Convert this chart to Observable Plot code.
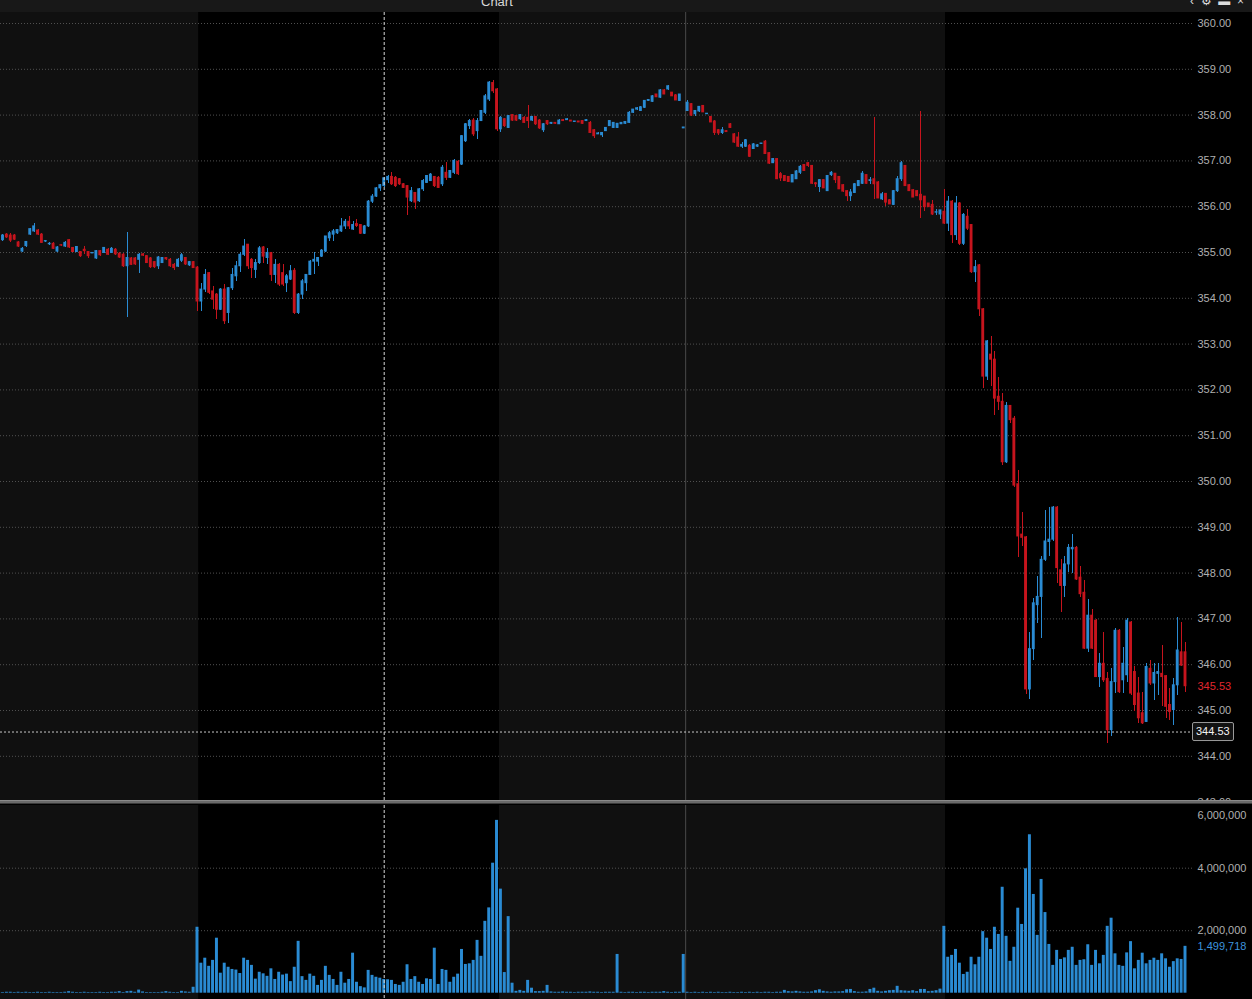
<!DOCTYPE html>
<html><head><meta charset="utf-8">
<script src="https://cdn.jsdelivr.net/npm/d3@7"></script>
<script src="https://cdn.jsdelivr.net/npm/@observablehq/plot@0.6"></script>
<style>
html,body{margin:0;padding:0;background:#000;width:1252px;height:999px;overflow:hidden;font-family:"Liberation Sans",Arial,sans-serif;}
#header{position:relative;height:12px;background:#181818;overflow:hidden;}
#title{position:absolute;left:481px;top:-5px;font-size:13px;line-height:13px;color:#d8d8d8;}
#icons{position:absolute;left:1190px;top:-5px;font-size:12px;line-height:13px;color:#dcdcdc;white-space:pre;}
#sep{height:5px;background:linear-gradient(to bottom,#8a8a8a 0,#8a8a8a 1px,#6a6a6a 1px,#6a6a6a 3px,#3a3a3a 3px,#3a3a3a 4px,#000 4px);}
svg{display:block;}
</style></head><body>
<div id="header"><span id="title">Chart</span><span id="icons">‹  ⚙  ▬  ×</span></div>
<div id="price"></div>
<div id="sep"></div>
<div id="volume"></div>
<script>
// ---- 5-minute bars (index 0 = first visible bar) ----
const open = [
355.28,355.27,355.39,355.37,355.37,355.22,355.02,355.14,355.39,355.46,
355.48,355.39,355.24,355.18,355.19,355.02,355.16,355.13,355.27,355.10,
355.01,355.01,355.06,355.01,354.98,354.87,355.03,354.99,355.06,354.99,
355.06,354.97,354.95,354.70,354.87,354.87,354.84,354.96,354.92,354.87,
354.79,354.70,354.77,354.88,354.84,354.73,354.69,354.82,354.88,354.72,
354.79,354.67,353.93,354.19,354.55,354.15,354.08,353.75,354.19,353.68,
354.22,354.48,354.70,354.95,355.17,354.84,354.62,354.77,355.11,354.88,
354.99,354.51,354.73,354.55,354.33,354.41,354.60,353.68,354.08,354.33,
354.51,354.80,354.80,354.91,355.02,355.31,355.39,355.42,355.46,355.57,
355.67,355.50,355.62,355.60,355.41,355.57,356.11,356.22,356.40,356.45,
356.58,356.65,356.63,356.60,356.49,356.45,356.12,356.30,356.12,356.38,
356.52,356.56,356.65,356.63,356.49,356.74,356.63,356.74,356.98,356.92,
357.43,357.76,357.88,357.65,357.87,358.05,358.34,358.70,358.56,357.69,
357.91,357.72,358.00,357.98,357.91,357.94,357.94,357.88,357.96,357.88,
357.67,357.87,357.81,357.83,357.80,357.89,357.89,357.88,357.85,357.86,
357.87,357.87,357.83,357.67,357.58,357.56,357.65,357.76,357.72,357.72,
357.80,357.81,357.83,358.05,358.12,358.09,358.16,358.31,358.29,358.45,
358.38,358.54,358.56,358.49,358.43,358.31,357.71,358.09,358.24,358.02,
358.08,358.20,358.02,357.96,357.86,357.67,357.61,357.65,357.80,357.58,
357.51,357.31,357.31,357.33,357.26,357.31,357.37,357.42,357.17,356.95,
357.04,356.71,356.67,356.65,356.53,356.60,356.74,356.91,356.95,356.89,
356.51,356.43,356.58,356.34,356.69,356.72,356.65,356.47,356.34,356.23,
356.30,356.45,356.50,356.69,356.56,356.60,356.53,356.16,356.28,356.14,
356.04,356.34,356.60,356.89,356.47,356.36,356.34,356.26,356.22,356.07,
356.04,355.87,355.83,355.89,355.63,356.11,355.38,356.07,355.19,355.78,
355.60,354.57,354.72,353.76,352.29,352.77,352.66,351.85,351.74,350.42,
351.65,351.37,349.94,348.84,348.78,345.46,346.34,347.30,347.48,348.29,
348.68,348.73,349.43,348.06,347.72,348.19,348.52,348.55,347.90,347.57,
346.35,347.07,346.96,345.73,346.02,345.69,344.57,345.62,346.74,345.66,
345.77,346.92,345.84,345.37,344.94,344.75,345.91,345.59,345.80,345.80,
345.75,345.12,345.01,345.55,346.27,346.27];
const high = [
355.31,355.39,355.42,355.41,355.39,355.24,355.10,355.25,355.53,355.63,
355.50,355.41,355.27,355.22,355.21,355.13,355.17,355.23,355.29,355.12,
355.14,355.03,355.13,355.03,355.01,355.05,355.05,355.12,355.08,355.10,
355.08,354.99,354.97,355.43,354.89,354.89,354.97,354.98,354.94,354.89,
354.81,354.91,354.90,354.90,354.86,354.77,354.86,354.97,354.90,354.81,
354.81,354.69,354.33,354.62,354.57,354.26,354.10,354.21,354.30,354.24,
354.65,354.81,354.99,355.28,355.18,354.86,354.84,355.13,355.13,355.08,
355.01,354.84,354.75,354.73,354.53,354.71,354.64,354.10,354.41,354.53,
354.82,354.99,354.90,355.06,355.36,355.45,355.50,355.51,355.75,355.71,
355.78,355.67,355.71,355.62,355.59,356.13,356.26,356.42,356.49,356.64,
356.69,356.74,356.65,356.62,356.51,356.47,356.41,356.32,356.40,356.59,
356.69,356.72,356.67,356.65,356.89,356.96,356.80,357.04,357.00,357.56,
357.81,357.91,357.93,357.93,358.11,358.45,358.74,358.76,358.58,357.98,
357.93,358.00,358.02,358.00,358.02,357.96,358.20,357.98,357.98,357.90,
357.82,357.89,357.84,357.84,357.90,357.90,357.92,357.89,357.87,357.87,
357.88,357.90,357.85,357.69,357.61,357.62,357.73,357.88,357.84,357.82,
357.84,357.86,358.08,358.13,358.16,358.18,358.32,358.34,358.42,358.46,
358.55,358.55,358.65,358.50,358.44,358.46,357.73,358.31,358.26,358.10,
358.19,358.21,358.04,357.98,357.88,357.69,357.72,357.66,357.81,357.60,
357.61,357.40,357.47,357.35,357.37,357.35,357.39,357.44,357.18,357.05,
357.05,356.74,356.68,356.66,356.70,356.78,356.89,356.92,356.96,356.90,
356.52,356.60,356.59,356.68,356.76,356.73,356.66,356.48,356.35,356.38,
356.50,356.57,356.76,356.70,356.63,357.95,356.54,356.31,356.29,356.15,
356.35,356.65,356.98,356.90,356.48,356.37,356.35,358.08,356.23,356.08,
356.13,355.94,355.92,356.37,356.22,356.13,356.22,356.09,355.86,355.93,
355.62,354.83,354.74,353.78,353.08,353.17,352.84,352.26,351.93,351.72,
351.67,351.41,350.24,349.33,348.80,346.71,347.45,347.92,348.37,349.36,
349.43,349.45,349.45,348.30,348.37,348.62,348.84,348.57,348.15,347.83,
347.43,347.21,346.98,346.24,346.71,345.84,345.91,346.78,346.76,346.38,
347.00,346.94,345.95,345.73,345.40,346.02,346.09,346.02,346.02,346.42,
345.77,345.48,345.69,347.03,346.92,346.49];
const low = [
355.15,355.25,355.31,355.22,355.26,355.11,355.00,355.12,355.37,355.44,
355.37,355.19,355.22,355.16,355.06,355.00,355.14,355.11,355.09,354.99,
354.99,354.90,354.96,354.87,354.97,354.85,354.92,354.97,354.93,354.97,
354.94,354.87,354.68,353.59,354.71,354.72,354.55,354.91,354.75,354.66,
354.66,354.63,354.75,354.83,354.68,354.60,354.67,354.78,354.72,354.70,
354.64,353.72,353.72,354.12,354.08,353.75,353.54,353.73,353.43,353.46,
354.18,354.37,354.56,354.91,354.62,354.44,354.44,354.73,354.77,354.73,
354.37,354.33,354.26,354.26,354.12,354.39,353.64,353.64,353.98,354.15,
354.49,354.51,354.70,354.88,354.99,355.24,355.24,355.40,355.43,355.50,
355.50,355.48,355.55,355.40,355.39,355.55,356.08,356.20,356.33,356.43,
356.51,356.47,356.43,356.47,356.39,355.80,356.09,355.94,356.10,356.34,
356.50,356.54,356.43,356.39,356.45,356.58,356.61,356.71,356.69,356.90,
357.40,357.69,357.54,357.47,357.85,358.01,358.30,358.48,357.65,357.63,
357.74,357.70,357.86,357.86,357.89,357.81,357.71,357.86,357.78,357.69,
357.63,357.78,357.80,357.80,357.79,357.86,357.88,357.85,357.84,357.83,
357.80,357.86,357.59,357.50,357.57,357.52,357.64,357.75,357.71,357.70,
357.79,357.80,357.81,358.04,358.11,358.08,358.15,358.30,358.28,358.38,
358.37,358.44,358.54,358.40,358.31,358.30,357.70,358.07,357.97,357.96,
358.06,358.05,358.01,357.83,357.56,357.55,357.58,357.62,357.71,357.39,
357.29,357.28,357.29,357.08,357.25,357.30,357.36,357.14,356.93,356.94,
356.59,356.56,356.55,356.53,356.52,356.59,356.70,356.77,356.86,356.49,
356.43,356.31,356.39,356.33,356.67,356.51,356.37,356.32,356.12,356.12,
356.29,356.44,356.49,356.49,356.49,356.15,356.17,356.14,356.01,356.04,
356.03,356.31,356.56,356.44,356.33,356.19,356.22,355.74,355.90,355.98,
355.80,355.80,355.72,355.61,355.45,355.19,355.27,355.15,355.15,355.49,
354.55,354.35,353.61,352.03,352.21,352.07,351.45,351.56,350.35,350.40,
351.27,349.87,348.33,348.57,345.35,345.24,346.09,346.90,346.57,348.25,
348.36,348.70,347.78,347.14,347.47,348.01,348.00,347.84,347.47,346.33,
346.27,346.33,345.71,345.51,345.62,344.28,344.43,345.37,345.37,345.37,
345.62,345.33,344.97,344.72,344.70,344.73,345.55,345.22,345.33,345.08,
344.83,344.79,344.68,345.33,345.96,345.40];
const close = [
355.17,355.37,355.33,355.26,355.28,355.13,355.08,355.23,355.51,355.57,
355.39,355.21,355.25,355.19,355.08,355.11,355.15,355.21,355.11,355.01,
355.12,354.92,355.03,354.92,354.99,355.03,354.94,355.10,354.95,355.08,
354.96,354.89,354.70,354.88,354.73,354.74,354.95,354.93,354.77,354.68,
354.68,354.89,354.88,354.85,354.70,354.66,354.84,354.94,354.74,354.79,
354.66,353.93,354.19,354.51,354.12,353.97,353.75,354.19,353.50,354.22,
354.51,354.70,354.95,355.13,354.70,354.66,354.77,355.09,354.91,354.99,
354.51,354.73,354.30,354.30,354.48,354.59,353.68,354.08,354.37,354.51,
354.80,354.84,354.88,355.04,355.35,355.42,355.46,355.49,355.57,355.67,
355.57,355.60,355.58,355.41,355.57,356.11,356.22,356.40,356.47,356.62,
356.65,356.49,356.45,356.49,356.41,356.20,356.34,356.09,356.38,356.56,
356.67,356.70,356.45,356.41,356.85,356.63,356.78,357.00,356.71,357.54,
357.80,357.87,357.58,357.87,358.09,358.41,358.71,358.52,357.69,357.94,
357.76,357.98,357.88,357.88,358.00,357.83,357.87,357.96,357.80,357.71,
357.80,357.80,357.83,357.81,357.88,357.87,357.91,357.86,357.86,357.84,
357.81,357.89,357.61,357.54,357.60,357.61,357.72,357.87,357.83,357.81,
357.83,357.85,358.05,358.12,358.15,358.17,358.31,358.33,358.41,358.39,
358.54,358.45,358.63,358.41,358.32,358.45,357.73,358.27,357.99,358.09,
358.18,358.06,358.03,357.84,357.61,357.60,357.67,357.63,357.72,357.40,
357.31,357.35,357.45,357.09,357.36,357.34,357.38,357.15,356.94,357.04,
356.60,356.62,356.56,356.54,356.69,356.77,356.87,356.78,356.89,356.50,
356.49,356.58,356.40,356.67,356.74,356.58,356.38,356.33,356.23,356.31,
356.49,356.56,356.72,356.50,356.58,356.49,356.18,356.27,356.09,356.05,
356.34,356.60,356.95,356.45,356.34,356.20,356.23,356.14,355.99,355.99,
355.83,355.88,355.92,355.63,356.11,355.38,356.07,355.19,355.82,355.52,
354.57,354.68,353.76,352.29,353.06,352.66,351.81,351.74,350.42,351.65,
351.34,349.91,348.80,348.77,345.46,346.34,347.34,347.48,348.29,348.69,
348.73,349.43,348.11,347.72,348.19,348.55,348.55,347.86,347.54,346.35,
347.07,346.35,345.73,346.02,345.66,344.57,345.62,346.74,345.40,346.02,
346.96,345.37,345.12,344.83,344.72,345.95,345.59,345.82,345.84,345.73,
345.08,344.97,345.55,346.31,345.98,345.53];
// volume per bar, in millions of shares
const volume = [
0.03,0.02,0.03,0.03,0.02,0.03,0.02,0.03,0.02,0.02,
0.03,0.02,0.02,0.03,0.02,0.02,0.02,0.03,0.05,0.03,
0.02,0.02,0.03,0.02,0.02,0.02,0.03,0.02,0.02,0.03,
0.03,0.05,0.02,0.05,0.06,0.03,0.10,0.04,0.02,0.02,
0.02,0.02,0.03,0.05,0.03,0.02,0.02,0.06,0.04,0.03,
0.19,2.11,0.96,1.12,0.86,1.05,1.76,0.64,0.96,0.83,
0.76,0.74,0.63,1.12,1.05,0.89,0.45,0.67,0.62,0.54,
0.78,0.44,0.67,0.58,0.61,0.37,0.83,1.66,0.53,0.41,
0.61,0.54,0.25,0.41,0.86,0.57,0.44,0.25,0.67,0.32,
0.44,1.28,0.35,0.21,0.17,0.73,0.57,0.51,0.48,0.44,
0.43,0.41,0.28,0.25,0.35,0.91,0.44,0.53,0.35,0.28,
0.46,0.44,1.44,0.28,0.76,0.73,0.35,0.51,0.61,1.40,
0.92,0.94,1.05,1.69,1.18,2.30,2.73,4.16,5.53,3.33,
0.66,2.45,0.32,0.06,0.09,0.06,0.41,0.16,0.05,0.05,
0.06,0.25,0.04,0.03,0.03,0.04,0.03,0.03,0.02,0.03,
0.03,0.03,0.04,0.03,0.03,0.02,0.03,0.03,0.03,1.24,
0.03,0.02,0.03,0.03,0.02,0.03,0.03,0.02,0.03,0.03,
0.03,0.05,0.03,0.02,0.03,0.03,1.24,0.03,0.02,0.03,
0.02,0.03,0.02,0.03,0.02,0.03,0.02,0.02,0.03,0.02,
0.02,0.03,0.02,0.03,0.02,0.03,0.02,0.03,0.03,0.02,
0.03,0.03,0.09,0.05,0.04,0.06,0.04,0.03,0.03,0.04,
0.08,0.11,0.06,0.04,0.03,0.04,0.04,0.05,0.11,0.12,
0.05,0.03,0.03,0.04,0.12,0.16,0.06,0.04,0.06,0.08,
0.09,0.22,0.08,0.07,0.06,0.08,0.05,0.12,0.12,0.05,
0.06,0.08,0.13,2.14,1.15,1.21,1.40,0.96,0.60,0.67,
1.15,0.91,1.15,1.97,1.76,1.40,2.11,1.88,3.39,1.82,
1.02,1.47,2.72,2.20,3.98,5.07,3.16,1.85,3.64,2.58,
1.56,0.89,1.37,1.08,1.13,1.37,1.47,0.89,1.05,1.07,
1.55,0.89,1.37,0.94,1.21,2.14,2.40,1.26,0.89,0.86,
1.29,1.65,0.78,1.05,1.28,0.94,1.05,1.12,1.05,1.26,
1.10,0.83,1.01,1.10,1.08,1.499718];

// sessions (bar indices): extended-hours stretches, day break, cursor
const extendedSessions = [{start: -1, end: 51}, {start: 129, end: 243}];
const dayBreak = 176.5;
const cursorBar = 99;
const crossPrice = 344.53;
const priceTicks = [343,344,345,346,347,348,349,350,351,352,353,354,355,356,357,358,359,360];
const volTicks = [2, 4];
const volTop = 6;

const blue = "#2a8bd3", red = "#c6141d";
const fmt2 = d3.format(".2f");
const fmtVol = v => d3.format(",")(Math.round(v * 1e6));

const bars = open.map((o, i) => ({i, open: o, high: high[i], low: low[i], close: close[i], col: close[i] >= o ? blue : red}));
const vols = volume.map((v, i) => ({i, v}));
const lastClose = close[close.length - 1];
const lastVol = volume[volume.length - 1];

const W = 1252, MR = 60;
const xOpt = {domain: [0, open.length - 1], range: [-1.39, 1185], axis: null};
const baseStyle = {background: "#000", color: "#b0b0b0", fontFamily: "Liberation Sans, Arial, sans-serif", fontSize: "11px", overflow: "hidden"};
const bandMark = Plot.rect(extendedSessions, {x1: d => d.start - 0.36, x2: d => d.end + 0.3, fill: "#101010"});

const price = Plot.plot({
  width: W, height: 788,
  marginTop: 0, marginBottom: 0, marginLeft: 0, marginRight: MR,
  style: baseStyle,
  x: xOpt,
  y: {domain: [343, 360], range: [789.6, 11], axis: null},
  color: {type: "identity"},
  marks: [
    bandMark,
    Plot.ruleY(priceTicks, {stroke: "#505050", strokeDasharray: "1,2"}),
    Plot.ruleX([dayBreak], {stroke: "#4a4a4a"}),
    Plot.ruleX(bars, {x: "i", y1: "low", y2: "high", stroke: "col", strokeWidth: 1, shapeRendering: "crispEdges"}),
    Plot.rect(bars, {x1: d => d.i - 0.37, x2: d => d.i + 0.37, y1: "open", y2: "close", fill: "col", insetTop: -0.5, insetBottom: -0.5}),
    Plot.ruleX([cursorBar], {stroke: "#d8d8d8", strokeDasharray: "3,2"}),
    Plot.ruleY([crossPrice], {stroke: "#c8c8c8", strokeDasharray: "2,2"}),
    Plot.text(priceTicks, {y: d => d, frameAnchor: "right", dx: 5, textAnchor: "start", text: d => fmt2(d), fill: "#b0b0b0", fontSize: 11}),
    Plot.text([lastClose], {y: d => d, frameAnchor: "right", dx: 5, textAnchor: "start", text: d => fmt2(d), fill: "#e0262e", fontSize: 11})
  ]
});
// crosshair price box
{
  const yc = price.scale("y").apply(crossPrice);
  const g = d3.select(price).append("g");
  g.append("rect").attr("x", W - MR + 0.5).attr("y", yc - 9).attr("width", 41).attr("height", 18)
    .attr("fill", "#121212").attr("stroke", "#9a9a9a").attr("rx", 1.5);
  g.append("text").attr("x", W - MR + 4).attr("y", yc).attr("dy", "0.35em").attr("fill", "#f2f2f2")
    .attr("font-size", 11).attr("text-anchor", "start").text(fmt2(crossPrice));
}
document.getElementById("price").appendChild(price);

const vol = Plot.plot({
  width: W, height: 194,
  marginTop: 0, marginBottom: 0, marginLeft: 0, marginRight: MR,
  style: baseStyle,
  x: xOpt,
  y: {domain: [0, volTop], range: [187.7, 0.2], axis: null},
  marks: [
    bandMark,
    Plot.ruleY(volTicks, {stroke: "#505050", strokeDasharray: "1,2"}),
    Plot.ruleX([dayBreak], {stroke: "#4a4a4a"}),
    Plot.rect(vols, {x1: d => d.i - 0.38, x2: d => d.i + 0.38, y1: 0, y2: "v", fill: blue}),
    Plot.ruleX([cursorBar], {stroke: "#d8d8d8", strokeDasharray: "3,2"}),
    Plot.text(volTicks, {y: d => d, frameAnchor: "right", dx: 5, textAnchor: "start", text: fmtVol, fill: "#b0b0b0", fontSize: 11}),
    Plot.text([volTop], {y: d => d, dy: 10, frameAnchor: "right", dx: 5, textAnchor: "start", text: fmtVol, fill: "#b0b0b0", fontSize: 11}),
    Plot.text([lastVol], {y: d => d, frameAnchor: "right", dx: 5, textAnchor: "start", text: fmtVol, fill: "#3d93dc", fontSize: 11})
  ]
});
document.getElementById("volume").appendChild(vol);
</script></body></html>
